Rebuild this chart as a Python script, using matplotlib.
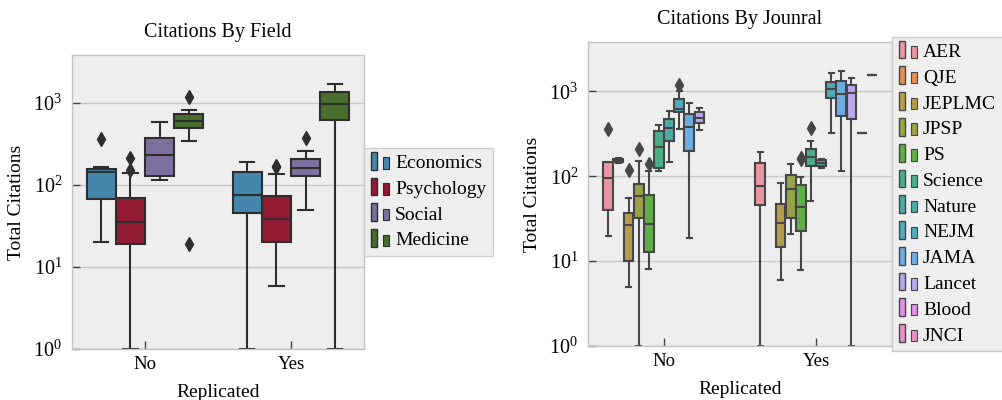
import matplotlib
matplotlib.use('Agg')
import matplotlib.pyplot as plt
import numpy as np
import colorsys
import seaborn as sns
from matplotlib.patches import Rectangle
from matplotlib.legend_handler import HandlerBase
from matplotlib.ticker import NullLocator, LogLocator

plt.rcParams['font.family'] = ['Liberation Serif', 'DejaVu Serif']
plt.rcParams['mathtext.fontset'] = 'cm'

groups = ['No', 'Yes']

# ---- Citations by field: per field, values for [No, Yes]
fields = ['Economics', 'Psychology', 'Social', 'Medicine']
field_whislo = [[20, 1], [1, 5.9], [114, 50], [346, 1]]
field_q1 = [[68, 46], [19, 20], [130, 129], [499, 625]]
field_med = [[143, 76], [35, 38], [233, 162], [608, 981]]
field_q3 = [[157, 143], [69, 74], [377, 208], [733, 1350]]
field_whishi = [[163, 192], [138, 137], [586, 256], [829, 1721]]
field_fliers = [[[360], []], [[150, 212], [165, 172]], [[], [370]], [[1184, 19], []]]

# ---- Citations by journal: per journal, values for [No, Yes] (None = no data)
journals = ['AER', 'QJE', 'JEPLMC', 'JPSP', 'PS', 'Science', 'Nature',
            'NEJM', 'JAMA', 'Lancet', 'Blood', 'JNCI']
jour_whislo = [[19.8, 1], [144, None], [5, 6], [1, 21], [8, 7.9], [115, 51],
               [147, 126], [357, 326], [19, 117], [351, 1], [None, 323], [None, 1571]]
jour_q1 = [[40, 46], [146, None], [10, 14.8], [32, 32], [12.9, 22.9], [124, 134],
           [258, 134], [566, 834], [198, 517], [420, 472], [None, 323], [None, 1571]]
jour_med = [[96, 77], [155, None], [27, 28], [59, 70], [27.6, 43], [223, 169],
            [370, 145], [625, 1056], [377, 939], [490, 955], [None, 323], [None, 1571]]
jour_q3 = [[146, 145], [161, None], [37, 46.7], [82, 104], [61, 78], [344, 211],
           [476, 154], [813, 1300], [541, 1324], [571, 1188], [None, 323], [None, 1571]]
jour_whishi = [[146, 191], [165, None], [55, 83], [150, 138], [115, 99], [401, 260],
               [591, 161], [1000, 1660], [736, 1737], [643, 1435], [None, 323], [None, 1571]]
jour_fliers = [[[357], []], [[], []], [[120], []], [[211], []], [[138], [166, 160]],
               [[], [373]], [[], []], [[1199], []], [[], []], [[], []], [[], []], [[], []]]

BG = '#eeeeee'
EDGE = '#c4c4c4'


def desat(c, prop=0.75):
    r, g, b = matplotlib.colors.to_rgb(c)
    h, l, s = colorsys.rgb_to_hls(r, g, b)
    return colorsys.hls_to_rgb(h, l, s * prop)


def line_gray(colors):
    lum = min(colorsys.rgb_to_hls(*c)[1] for c in colors) * 0.6
    return (lum, lum, lum)


class TwoRectHandler(HandlerBase):
    def create_artists(self, legend, orig_handle, xdescent, ydescent,
                       width, height, fontsize, trans):
        fc = orig_handle.get_facecolor()
        ec = orig_handle.get_edgecolor()
        x0, y0 = -xdescent, -ydescent
        r1 = Rectangle((x0, y0 - 0.1 * height), 0.34 * width, 1.3 * height,
                       facecolor=fc, edgecolor=ec, lw=1.0, transform=trans)
        r2 = Rectangle((x0 + 0.66 * width, y0 - 0.05 * height), 0.32 * width, 0.85 * height,
                       facecolor=fc, edgecolor=ec, lw=0.8, transform=trans)
        return [r1, r2]


def draw(ax, names, colors, whislo, q1, med, q3, whishi, fliers, title):
    n = len(names)
    gray = line_gray(colors)
    each = 0.8 / n
    offsets = np.linspace(0, 0.8 - each, n) - (0.8 - each) / 2
    for i, name in enumerate(names):
        for g in range(len(groups)):
            if med[i][g] is None:
                continue
            st = dict(whislo=whislo[i][g], q1=q1[i][g], med=med[i][g],
                      q3=q3[i][g], whishi=whishi[i][g], fliers=fliers[i][g])
            ax.bxp([st], positions=[g + offsets[i]], widths=[each * 0.98],
                   patch_artist=True, manage_ticks=False,
                   boxprops=dict(facecolor=colors[i], edgecolor=gray, linewidth=1.5),
                   whiskerprops=dict(color=gray, linewidth=1.5),
                   capprops=dict(color=gray, linewidth=1.5),
                   medianprops=dict(color=gray, linewidth=1.5),
                   flierprops=dict(marker='d', markerfacecolor=gray,
                                   markeredgecolor=gray, markersize=7.5))
    ax.set_yscale('log')
    ax.set_ylim(1, 3830)
    ax.set_xlim(-0.5, len(groups) - 0.5)
    ax.set_xticks(range(len(groups)))
    ax.set_xticklabels(groups)
    ax.yaxis.set_major_locator(LogLocator(base=10, numticks=10))
    ax.yaxis.set_minor_locator(NullLocator())
    ax.set_facecolor(BG)
    ax.set_axisbelow(True)
    ax.yaxis.grid(True, color='#c8c8c8', linewidth=1.0)
    ax.xaxis.grid(False)
    for sp in ax.spines.values():
        sp.set_color(EDGE)
        sp.set_linewidth(1.0)
    ax.tick_params(axis='both', direction='in', length=6, width=1, color='#444444')
    ax.tick_params(axis='y', pad=7, labelsize=14.5)
    ax.tick_params(axis='x', pad=5, labelsize=13.5)
    ax.set_title(title, fontsize=14.5, pad=13)
    ax.set_xlabel('Replicated', fontsize=14, labelpad=8)
    ax.set_ylabel('Total Citations', fontsize=14, labelpad=6)
    handles = [Rectangle((0, 0), 1, 1, facecolor=c, edgecolor=gray) for c in colors]
    leg = ax.legend(handles, names, loc='center left', bbox_to_anchor=(1.0, 0.5),
                    borderaxespad=0.0, fontsize=14, handlelength=0.95,
                    handletextpad=0.3, borderpad=0.35, labelspacing=0.42,
                    fancybox=False, frameon=True,
                    handler_map={Rectangle: TwoRectHandler()})
    fr = leg.get_frame()
    fr.set_facecolor(BG)
    fr.set_edgecolor('#cccccc')
    fr.set_alpha(1)
    fr.set_linewidth(1.0)


fig = plt.figure(figsize=(10.03, 4.0), dpi=100)
ax1 = fig.add_axes([72 / 1003, 1 - 349 / 400, 292 / 1003, 294 / 400])
ax2 = fig.add_axes([588 / 1003, 1 - 346 / 400, 304 / 1003, 304 / 400])

bmh = ['#348ABD', '#A60628', '#7A68A6', '#467821']
field_colors = [desat(c) for c in bmh]
jour_colors = [desat(c) for c in sns.husl_palette(len(journals), l=.7)]

draw(ax1, fields, field_colors, field_whislo, field_q1, field_med, field_q3,
     field_whishi, field_fliers, 'Citations By Field')
draw(ax2, journals, jour_colors, jour_whislo, jour_q1, jour_med, jour_q3,
     jour_whishi, jour_fliers, 'Citations By Jounral')

fig.savefig('out.png', dpi=100)
